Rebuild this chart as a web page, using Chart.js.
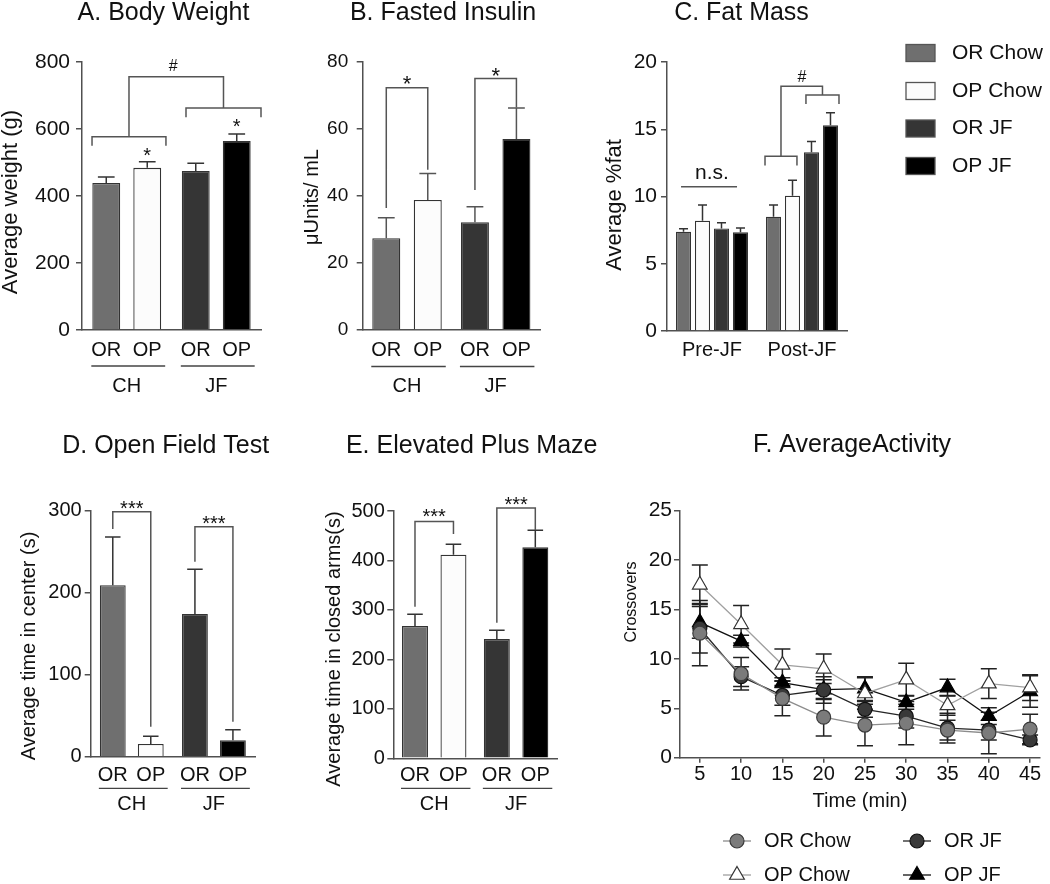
<!DOCTYPE html>
<html>
<head>
<meta charset="utf-8">
<script src="https://cdn.jsdelivr.net/npm/chart.js@4.4.1/dist/chart.umd.min.js"></script>
<style>
html,body{margin:0;padding:0;background:#fff;width:1050px;height:884px;overflow:hidden;position:relative}
canvas{position:absolute}
</style>
</head>
<body>
<canvas id="cA"></canvas>
<canvas id="cB"></canvas>
<canvas id="cC"></canvas>
<canvas id="cD"></canvas>
<canvas id="cE"></canvas>
<canvas id="cF"></canvas>
<script>
// ------------------------- DATA -------------------------
const dietGroups = ['CH', 'JF'];
const strainLabels = ['OR', 'OP'];

// A. Body weight (g)
const weightOR = [439, 475];
const weightOP = [484, 564];
const weightErrOR = [18, 23];
const weightErrOP = [18, 21];
const weightTicks = [0, 200, 400, 600, 800];

// B. Fasted insulin (uUnits/mL)
const insulinOR = [27.4, 32.2];
const insulinOP = [38.8, 57.0];
const insulinErrOR = [6.1, 4.6];
const insulinErrOP = [7.9, 9.3];
const insulinTicks = [0, 20, 40, 60, 80];

// C. Fat mass (% fat)
const fatPhases = ['Pre-JF', 'Post-JF'];
const fatGroups = ['OR Chow', 'OP Chow', 'OR JF', 'OP JF'];
const fatORChow = [7.38, 8.5];
const fatOPChow = [8.2, 10.06];
const fatORJF = [7.63, 13.29];
const fatOPJF = [7.34, 15.29];
const fatErrORChow = [0.22, 0.87];
const fatErrOPChow = [1.17, 1.14];
const fatErrORJF = [0.42, 0.79];
const fatErrOPJF = [0.32, 0.94];
const fatTicks = [0, 5, 10, 15, 20];

// D. Open field test (s in center)
const openFieldOR = [209, 174];
const openFieldOP = [15.5, 20];
const openFieldErrOR = [59, 54.5];
const openFieldErrOP = [9.5, 13];
const openFieldTicks = [0, 100, 200, 300];

// E. Elevated plus maze (s in closed arms)
const plusMazeOR = [267.5, 241];
const plusMazeOP = [411.7, 426.6];
const plusMazeErrOR = [23.5, 18];
const plusMazeErrOP = [21.3, 34.4];
const plusMazeTicks = [0, 100, 200, 300, 400, 500];

// F. Average activity (crossovers)
const activityTimes = [5, 10, 15, 20, 25, 30, 35, 40, 45];
const activityORChow = [12.6, 8.5, 6.0, 4.1, 3.3, 3.5, 2.8, 2.5, 2.9];
const activityORJF   = [13.1, 8.2, 6.3, 6.85, 4.9, 4.2, 3.0, 2.8, 1.8];
const activityOPChow = [17.5, 13.5, 9.4, 9.0, 6.5, 7.9, 5.3, 7.5, 7.1];
const activityOPJF   = [13.7, 11.8, 7.6, 6.9, 7.0, 5.6, 7.1, 4.2, 6.7];
const activityErrORChow = [3.3, 1.65, 1.75, 1.9, 2.1, 2.2, 1.0, 2.1, 1.5];
const activityErrORJF   = [2.5, 1.0, 1.0, 1.35, 0.8, 1.2, 1.5, 1.0, 0.5];
const activityErrOPChow = [2.0, 1.9, 1.6, 1.5, 1.6, 1.65, 1.0, 1.5, 1.3];
const activityErrOPJF   = [1.6, 0.6, 0.5, 1.0, 1.2, 0.7, 0.85, 0.85, 1.6];
const activityTicks = [0, 5, 10, 15, 20, 25];

// ------------------------- STYLE -------------------------
const FAM = '"Liberation Sans", Arial, Helvetica, sans-serif';
Chart.defaults.font.family = FAM;
Chart.defaults.color = '#111';
const COL = {orChow: '#6f6f6f', opChow: '#fcfcfc', orJF: '#353535', opJF: '#000000'};
const AXIS = '#505050';
const BRK = '#555555';

// ------------------------- HELPERS -------------------------
function fixedTicks(arr) { return s => { s.ticks = arr.map(v => ({value: v})); }; }

function yScale(ticks, size, pad) {
  return {
    min: ticks[0], max: ticks[ticks.length - 1],
    afterBuildTicks: fixedTicks(ticks),
    grid: {drawOnChartArea: false, drawTicks: true, tickLength: 6, color: AXIS, lineWidth: 1.5},
    border: {color: AXIS, width: 1.5},
    ticks: {font: {size: size}, color: '#111', padding: pad}
  };
}
function xCat(size, pad) {
  return {
    type: 'category', offset: true,
    grid: {display: true, drawOnChartArea: false, drawTicks: false},
    border: {color: AXIS, width: 1.5},
    ticks: {font: {size: size}, color: '#111', padding: pad}
  };
}
function strainBars(orVals, opVals, cp, bp) {
  const base = {borderColor: '#333', borderWidth: 1.3, categoryPercentage: cp, barPercentage: bp};
  return [
    Object.assign({label: strainLabels[0], data: orVals, backgroundColor: [COL.orChow, COL.orJF]}, base),
    Object.assign({label: strainLabels[1], data: opVals, backgroundColor: [COL.opChow, COL.opJF]}, base)
  ];
}

function decoPlugin(rect, d) {
  const ox = rect.x, oy = rect.y;
  function px(chart, v) {
    if (Array.isArray(v)) return chart.getDatasetMeta(v[0]).data[v[1]].x;
    return chart.scales.x.getPixelForValue(v);
  }
  function drawErr(chart) {
    if (!d.errors) return;
    const ctx = chart.ctx, ys = chart.scales.y;
    ctx.save();
    ctx.strokeStyle = d.errColor || '#333';
    ctx.lineWidth = 1.5;
    d.errors.forEach((arr, di) => {
      const meta = chart.getDatasetMeta(di);
      const vals = chart.data.datasets[di].data;
      meta.data.forEach((el, i) => {
        const raw = vals[i];
        const v = (typeof raw === 'object') ? raw.y : raw;
        const e = arr[i];
        const x = el.x;
        const yT = ys.getPixelForValue(v + e);
        const yB = d.errorBoth ? ys.getPixelForValue(Math.max(v - e, 0)) : ys.getPixelForValue(v);
        const cw = d.capW || el.width * 0.6;
        ctx.beginPath();
        ctx.moveTo(x, yB); ctx.lineTo(x, yT);
        ctx.moveTo(x - cw / 2, yT); ctx.lineTo(x + cw / 2, yT);
        if (d.errorBoth) { ctx.moveTo(x - cw / 2, yB); ctx.lineTo(x + cw / 2, yB); }
        ctx.stroke();
      });
    });
    ctx.restore();
  }
  function drawBrackets(chart) {
    if (!d.brackets) return;
    const ctx = chart.ctx, ys = chart.scales.y;
    ctx.save();
    ctx.strokeStyle = BRK; ctx.lineWidth = 1.5;
    d.brackets.forEach(b => {
      const X1 = px(chart, b.x1), X2 = px(chart, b.x2), Y = ys.getPixelForValue(b.y);
      ctx.beginPath();
      if (b.y1 != null) { ctx.moveTo(X1, ys.getPixelForValue(b.y1)); ctx.lineTo(X1, Y); } else ctx.moveTo(X1, Y);
      ctx.lineTo(X2, Y);
      if (b.y2 != null) ctx.lineTo(X2, ys.getPixelForValue(b.y2));
      ctx.stroke();
    });
    ctx.restore();
  }
  function drawMarks(chart) {
    if (!d.marks) return;
    const ctx = chart.ctx, ys = chart.scales.y;
    ctx.save();
    ctx.fillStyle = '#111'; ctx.textAlign = 'center'; ctx.textBaseline = 'alphabetic';
    d.marks.forEach(m => {
      ctx.font = m.size + 'px ' + FAM;
      const X = Array.isArray(m.x) && m.x.length === 4
        ? (px(chart, [m.x[0], m.x[1]]) + px(chart, [m.x[2], m.x[3]])) / 2
        : px(chart, m.x);
      const Yc = ys.getPixelForValue(m.y);
      const mt = ctx.measureText(m.text);
      const base = Yc + (mt.actualBoundingBoxAscent - mt.actualBoundingBoxDescent) / 2;
      ctx.fillText(m.text, X, base);
    });
    ctx.restore();
  }
  function text(ctx, s, x, y, size, align, baseline, rot) {
    ctx.save();
    ctx.font = size + 'px ' + FAM;
    ctx.fillStyle = '#111';
    ctx.textAlign = align || 'center';
    ctx.textBaseline = baseline || 'middle';
    ctx.translate(x - ox, y - oy);
    if (rot) ctx.rotate(rot);
    ctx.fillText(s, 0, 0);
    ctx.restore();
  }
  return {
    id: 'deco',
    beforeDatasetsDraw(chart) { if (d.errorBoth) drawErr(chart); },
    afterDatasetsDraw(chart) {
      if (!d.errorBoth) drawErr(chart);
      drawBrackets(chart);
      drawMarks(chart);
    },
    afterDraw(chart) {
      const ctx = chart.ctx;
      if (d.title) text(ctx, d.title.text, d.title.x, d.title.y, 25, 'center', 'alphabetic');
      if (d.yTitle) text(ctx, d.yTitle.text, d.yTitle.x, d.yTitle.y, d.yTitle.size, 'center', 'middle', -Math.PI / 2);
      if (d.strainY != null) {
        const m0 = chart.getDatasetMeta(0), m1 = chart.getDatasetMeta(1);
        chart.data.datasets.forEach((ds, di) => {
          chart.getDatasetMeta(di).data.forEach(el => {
            text(ctx, ds.label, el.x + ox, d.strainY, 20, 'center', 'middle');
          });
        });
        ctx.save();
        ctx.strokeStyle = '#444'; ctx.lineWidth = 1.3;
        m0.data.forEach((el, i) => {
          const a = el.x - el.width / 2 - 1;
          const b = m1.data[i].x + m1.data[i].width / 2 + 4;
          ctx.beginPath();
          ctx.moveTo(a, d.underY - oy); ctx.lineTo(b, d.underY - oy);
          ctx.stroke();
        });
        ctx.restore();
      }
      if (d.boxLegend) {
        const L = d.boxLegend;
        chart.data.datasets.forEach((ds, i) => {
          const cy = L.y[i] - oy;
          ctx.save();
          ctx.fillStyle = ds.backgroundColor;
          ctx.strokeStyle = '#555'; ctx.lineWidth = 1.3;
          ctx.fillRect(L.x - ox, cy - L.h / 2, L.w, L.h);
          ctx.strokeRect(L.x - ox, cy - L.h / 2, L.w, L.h);
          ctx.restore();
          text(ctx, ds.label, L.tx, L.y[i], L.size, 'left', 'middle');
        });
      }
      if (d.lineLegend) {
        const L = d.lineLegend;
        L.items.forEach(it => {
          const ds = chart.data.datasets[it.di];
          const cx = it.x - ox, cy = it.y - oy;
          ctx.save();
          ctx.strokeStyle = ds.borderColor; ctx.lineWidth = 1.3;
          ctx.beginPath(); ctx.moveTo(cx - 14, cy); ctx.lineTo(cx + 14, cy); ctx.stroke();
          ctx.fillStyle = ds.pointBackgroundColor;
          ctx.strokeStyle = ds.pointBorderColor;
          ctx.lineWidth = ds.pointBorderWidth;
          Chart.helpers.drawPoint(ctx, {pointStyle: ds.pointStyle, radius: ds.pointRadius, rotation: 0, borderWidth: ds.pointBorderWidth}, cx, cy);
          ctx.restore();
          text(ctx, ds.label, it.x + 27, it.y, L.size, 'left', 'middle');
        });
      }
    }
  };
}

function makeChart(id, rect, area, config, d) {
  const cv = document.getElementById(id);
  cv.width = rect.w; cv.height = rect.h;
  cv.style.left = rect.x + 'px'; cv.style.top = rect.y + 'px';
  cv.style.width = rect.w + 'px'; cv.style.height = rect.h + 'px';
  const yW = area.L - rect.x;
  const padTop = area.T - rect.y;
  const padRight = rect.x + rect.w - area.R;
  const xH = d.xAxisH != null ? d.xAxisH : (rect.y + rect.h - area.B);
  const padBottom = rect.y + rect.h - area.B - xH;
  const o = config.options;
  o.responsive = false;
  o.animation = false;
  o.devicePixelRatio = 1;
  o.events = [];
  o.layout = {padding: {left: 0, top: padTop, right: padRight, bottom: padBottom}};
  o.plugins = {legend: {display: false}, tooltip: {enabled: false}, title: {display: false}};
  o.scales.y.afterFit = s => { s.width = yW; };
  o.scales.x.afterFit = s => { s.height = xH; };
  config.plugins = [decoPlugin(rect, d)];
  return new Chart(cv, config);
}

// ------------------------- A -------------------------
makeChart('cA', {x: -3, y: 0, w: 288, h: 425}, {L: 82, R: 261, T: 62, B: 330}, {
  type: 'bar',
  data: {labels: dietGroups, datasets: strainBars(weightOR, weightOP, 0.916, 0.68)},
  options: {scales: {x: xCat(20, 44), y: yScale(weightTicks, 21, 6)}}
}, {
  title: {text: 'A. Body Weight', x: 163.5, y: 19.5},
  yTitle: {text: 'Average weight (g)', x: 11, y: 202, size: 22},
  errors: [weightErrOR, weightErrOP],
  strainY: 350, underY: 366,
  brackets: [
    {x1: -0.388, x2: 0.438, y: 577, y1: 550, y2: 550},
    {x1: 0.662, x2: 1.5, y: 663, y1: 635, y2: 635},
    {x1: 0.025, x2: 1.081, y: 756, y1: 577, y2: 663}
  ],
  marks: [
    {text: '*', x: [1, 0], y: 531, size: 20},
    {text: '*', x: [1, 1], y: 617, size: 20},
    {text: '#', x: 0.52, y: 791, size: 16}
  ]
});

// ------------------------- B -------------------------
makeChart('cB', {x: 299, y: 0, w: 261, h: 425}, {L: 362.7, R: 540, T: 62, B: 330}, {
  type: 'bar',
  data: {labels: dietGroups, datasets: strainBars(insulinOR, insulinOP, 0.936, 0.675)},
  options: {scales: {x: xCat(20, 44), y: yScale(insulinTicks, 19, 8.5)}}
}, {
  title: {text: 'B. Fasted Insulin', x: 443, y: 19.5},
  yTitle: {text: 'μUnits/ mL', x: 312, y: 197, size: 20},
  errors: [insulinErrOR, insulinErrOP],
  errColor: '#555',
  strainY: 350, underY: 366.5,
  brackets: [
    {x1: [0, 0], x2: [1, 0], y: 72.3, y1: 36.4, y2: 47.8},
    {x1: [0, 1], x2: [1, 1], y: 75.1, y1: 41.8, y2: 66.4}
  ],
  marks: [
    {text: '*', x: [0, 0, 1, 0], y: 74.6, size: 22},
    {text: '*', x: [0, 1, 1, 1], y: 77.1, size: 22}
  ]
});

// ------------------------- C -------------------------
const fatColors = [COL.orChow, COL.opChow, COL.orJF, COL.opJF];
const fatSeries = [fatORChow, fatOPChow, fatORJF, fatOPJF];
makeChart('cC', {x: 602, y: 0, w: 448, h: 425}, {L: 667, R: 847, T: 62, B: 331}, {
  type: 'bar',
  data: {
    labels: fatPhases,
    datasets: fatGroups.map((g, i) => ({
      label: g, data: fatSeries[i], backgroundColor: fatColors[i],
      borderColor: '#333', borderWidth: 1.2, categoryPercentage: 0.844, barPercentage: 0.79
    }))
  },
  options: {scales: {x: xCat(20, 7), y: yScale(fatTicks, 21, 4)}}
}, {
  title: {text: 'C. Fat Mass', x: 741.5, y: 19.5},
  yTitle: {text: 'Average %fat', x: 615, y: 205, size: 22},
  errors: [fatErrORChow, fatErrOPChow, fatErrORJF, fatErrOPJF],
  brackets: [
    {x1: -0.344, x2: 0.278, y: 10.73},
    {x1: 0.589, x2: 0.944, y: 12.99, y1: 12.3, y2: 12.3},
    {x1: 1.044, x2: 1.411, y: 17.55, y1: 16.88, y2: 16.88},
    {x1: 0.7665, x2: 1.2275, y: 18.2, y1: 12.99, y2: 17.55}
  ],
  marks: [
    {text: 'n.s.', x: 0, y: 11.72, size: 21},
    {text: '#', x: 1.0, y: 18.96, size: 16}
  ],
  boxLegend: {x: 906, w: 29, h: 17, y: [53, 91, 128.5, 166], tx: 952, size: 21}
});

// ------------------------- D -------------------------
makeChart('cD', {x: 18, y: 428, w: 282, h: 456}, {L: 90.7, R: 255, T: 510.7, B: 756.7}, {
  type: 'bar',
  data: {labels: dietGroups, datasets: strainBars(openFieldOR, openFieldOP, 0.925, 0.68)},
  options: {scales: {x: xCat(20, 35.3), y: yScale(openFieldTicks, 20, 3)}}
}, {
  title: {text: 'D. Open Field Test', x: 165.7, y: 453},
  yTitle: {text: 'Average time in center (s)', x: 29.5, y: 646, size: 20},
  errors: [openFieldErrOR, openFieldErrOP],
  strainY: 775, underY: 788.3,
  brackets: [
    {x1: [0, 0], x2: [1, 0], y: 298.8, y1: 277.7, y2: 36.6},
    {x1: [0, 1], x2: [1, 1], y: 280.5, y1: 237.8, y2: 42.7}
  ],
  marks: [
    {text: '***', x: [0, 0, 1, 0], y: 307, size: 20},
    {text: '***', x: [0, 1, 1, 1], y: 288.7, size: 20}
  ]
});

// ------------------------- E -------------------------
makeChart('cE', {x: 322, y: 428, w: 294, h: 456}, {L: 393.3, R: 557, T: 511, B: 758.3}, {
  type: 'bar',
  data: {labels: dietGroups, datasets: strainBars(plusMazeOR, plusMazeOP, 0.94, 0.675)},
  options: {scales: {x: xCat(20, 33.7), y: yScale(plusMazeTicks, 20, 2.5)}}
}, {
  title: {text: 'E. Elevated Plus Maze', x: 471.7, y: 453},
  yTitle: {text: 'Average time in closed arms(s)', x: 334.3, y: 649, size: 20},
  errors: [plusMazeErrOR, plusMazeErrOP],
  strainY: 775, underY: 788.3,
  brackets: [
    {x1: [0, 0], x2: [1, 0], y: 479, y1: 306.5, y2: 453.5},
    {x1: [0, 1], x2: [1, 1], y: 506, y1: 274, y2: 461.6}
  ],
  marks: [
    {text: '***', x: [0, 0, 1, 0], y: 496.6, size: 20},
    {text: '***', x: [0, 1, 1, 1], y: 520, size: 20}
  ]
});

// ------------------------- F -------------------------
function pts(vals) { return activityTimes.map((t, i) => ({x: t, y: vals[i]})); }
const lineStyle = {borderWidth: 1.3, pointBorderWidth: 1.2, tension: 0, fill: false};
makeChart('cF', {x: 618, y: 428, w: 432, h: 456}, {L: 680, R: 1040, T: 510.7, B: 757.7}, {
  type: 'line',
  data: {
    datasets: [
      Object.assign({label: 'OR Chow', data: pts(activityORChow), borderColor: '#8c8c8c', pointBackgroundColor: '#7b7b7b', pointBorderColor: '#3a3a3a', pointStyle: 'circle', pointRadius: 7}, lineStyle),
      Object.assign({label: 'OR JF', data: pts(activityORJF), borderColor: '#262626', pointBackgroundColor: '#393939', pointBorderColor: '#111', pointStyle: 'circle', pointRadius: 7}, lineStyle),
      Object.assign({label: 'OP Chow', data: pts(activityOPChow), borderColor: '#a0a0a0', pointBackgroundColor: '#ffffff', pointBorderColor: '#333', pointStyle: 'triangle', pointRadius: 8.5}, lineStyle),
      Object.assign({label: 'OP JF', data: pts(activityOPJF), borderColor: '#111', pointBackgroundColor: '#000000', pointBorderColor: '#000', pointStyle: 'triangle', pointRadius: 8.5}, lineStyle)
    ]
  },
  options: {
    scales: {
      x: {
        type: 'linear', min: 2.6, max: 46.2,
        afterBuildTicks: fixedTicks(activityTimes),
        grid: {drawOnChartArea: false, drawTicks: true, tickLength: 5, color: AXIS, lineWidth: 1.5},
        border: {color: AXIS, width: 1.5},
        ticks: {font: {size: 20}, color: '#111', padding: 0},
        title: {display: true, text: 'Time (min)', font: {size: 20}, color: '#111', padding: 0}
      },
      y: yScale(activityTicks, 21, 2)
    }
  }
}, {
  xAxisH: 56,
  title: {text: 'F. AverageActivity', x: 852, y: 452},
  yTitle: {text: 'Crossovers', x: 632, y: 602, size: 16},
  errors: [activityErrORChow, activityErrORJF, activityErrOPChow, activityErrOPJF],
  errorBoth: true, capW: 16, errColor: '#222',
  lineLegend: {size: 20, items: [
    {di: 0, x: 737, y: 841}, {di: 1, x: 917, y: 841},
    {di: 2, x: 737, y: 875}, {di: 3, x: 917, y: 875}
  ]}
});
</script>
</body>
</html>
